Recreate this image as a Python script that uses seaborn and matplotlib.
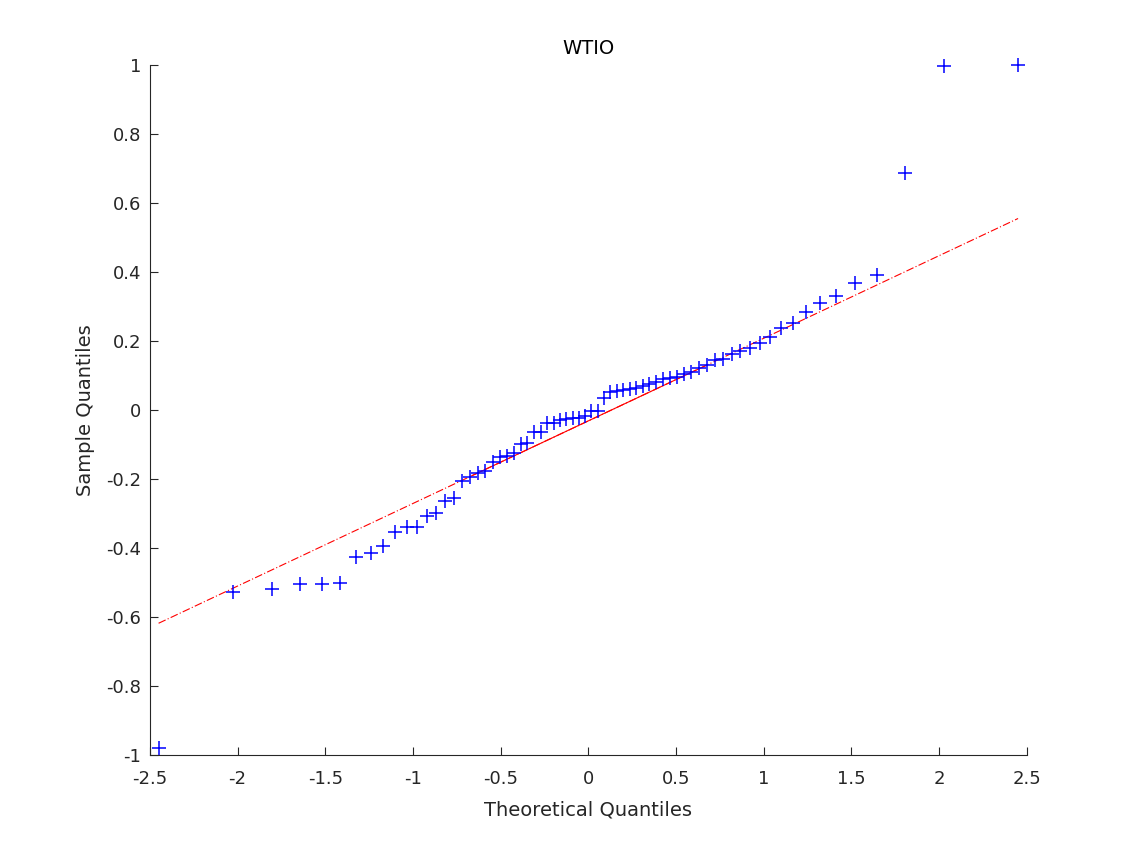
import statistics
import numpy as np
import pandas as pd
import seaborn as sns
import matplotlib.pyplot as plt

# sorted sample values (70 obs)
sample = [
    -0.980, -0.527, -0.519, -0.504, -0.504, -0.502, -0.427, -0.415, -0.393, -0.353,
    -0.339, -0.339, -0.307, -0.298, -0.264, -0.255, -0.206, -0.193, -0.183, -0.177,
    -0.151, -0.135, -0.132, -0.126, -0.098, -0.097, -0.065, -0.065, -0.039, -0.037,
    -0.029, -0.027, -0.024, -0.022, -0.016, -0.004, -0.004, 0.036, 0.051, 0.055,
    0.058, 0.060, 0.065, 0.070, 0.074, 0.082, 0.089, 0.094, 0.095, 0.103,
    0.111, 0.121, 0.130, 0.145, 0.147, 0.162, 0.172, 0.179, 0.193, 0.211,
    0.239, 0.251, 0.284, 0.311, 0.330, 0.367, 0.391, 0.687, 0.998, 1.000,
]
title = 'WTIO'
xticks = [-2.5, -2, -1.5, -1, -0.5, 0, 0.5, 1, 1.5, 2, 2.5]
yticks = [-1, -0.8, -0.6, -0.4, -0.2, 0, 0.2, 0.4, 0.6, 0.8, 1]

# theoretical normal quantiles, plotting positions (i-0.5)/n like matlab qqplot
nd = statistics.NormalDist()
n = len(sample)
df = pd.DataFrame({
    'theo': [nd.inv_cdf((i + 0.5) / n) for i in range(n)],
    'sample': np.sort(sample),
})

# reference line through the quartiles
q1, q3 = np.percentile(df['sample'], [25, 75], method='hazen')
x1, x3 = nd.inv_cdf(0.25), nd.inv_cdf(0.75)
slope = (q3 - q1) / (x3 - x1)
icpt = q1 - slope * x1
xmin, xmax = df['theo'].min(), df['theo'].max()

sns.set_style('white')
plt.rcParams['font.family'] = ['DejaVu Sans']
plt.rcParams['axes.unicode_minus'] = False

fig = plt.figure(figsize=(11.35, 8.51), dpi=100)
ax = fig.add_axes([0.132, 0.1128, 0.7727, 0.8108])

ax.plot([xmin, xmax], [icpt + slope * xmin, icpt + slope * xmax], color='red',
        lw=0.8, linestyle=(0, (7, 2, 1, 2)), zorder=1)
ax.plot([x1, x3], [q1, q3], color='red', lw=0.8, zorder=1)
sns.scatterplot(data=df, x='theo', y='sample', marker='+', color='#0000ff',
                s=110, linewidth=1.1, ax=ax, zorder=2, clip_on=False)

ax.set_xlim(-2.5, 2.5)
ax.set_ylim(-1, 1)
ax.set_xticks(xticks)
ax.set_xticklabels([f'{t:g}' for t in xticks])
ax.set_yticks(yticks)
ax.set_yticklabels([f'{t:g}' for t in yticks])

gray = '#262626'
for side in ['top', 'right']:
    ax.spines[side].set_visible(False)
for side in ['left', 'bottom']:
    ax.spines[side].set_color(gray)
    ax.spines[side].set_linewidth(0.8)
ax.tick_params(bottom=True, left=True, direction='in', length=6, width=0.8,
               colors=gray, labelsize=13)
ax.tick_params(axis='x', pad=11)
ax.tick_params(axis='y', pad=6)

ax.set_xlabel('Theoretical Quantiles', fontsize=14, color=gray, labelpad=9)
ax.set_ylabel('Sample Quantiles', fontsize=14, color=gray, labelpad=8)
ax.set_title(title, fontsize=14, color='black', pad=8)

fig.savefig('out.png', dpi=100)
